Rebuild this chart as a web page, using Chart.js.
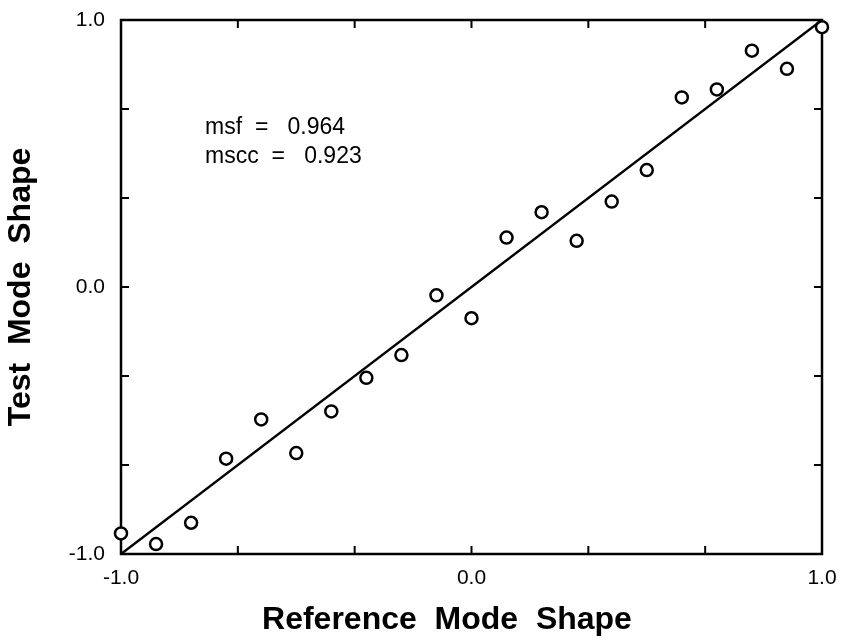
<!DOCTYPE html>
<html>
<head>
<meta charset="utf-8">
<script src="https://cdn.jsdelivr.net/npm/chart.js@4.4.1/dist/chart.umd.min.js"></script>
<style>
  html, body { margin: 0; padding: 0; background: #fff; }
  #wrap { width: 849px; height: 641px; }
</style>
</head>
<body>
<div id="wrap"><canvas id="mode-chart" width="849" height="641"></canvas></div>
<script>
// Mode shape comparison: test vs reference
const refShape = [-1.0, -0.9, -0.8, -0.7, -0.6, -0.5, -0.4, -0.3, -0.2, -0.1, 0.0,
                  0.1, 0.2, 0.3, 0.4, 0.5, 0.6, 0.7, 0.8, 0.9, 1.0];
const testShape = [-0.923, -0.963, -0.883, -0.643, -0.496, -0.622, -0.466, -0.340, -0.255, -0.031, -0.117,
                   0.185, 0.280, 0.173, 0.320, 0.438, 0.710, 0.740, 0.885, 0.817, 0.973];
const fitX = [-1.0, 1.0];
const fitY = [-1.0, 1.0];
const tickVals = [-1, -2 / 3, -1 / 3, 0, 1 / 3, 2 / 3, 1];
const labelVals = [-1, 0, 1];
const notes = ['msf  =   0.964', 'mscc  =   0.923'];
const notePos = [[-0.76, 0.596], [-0.76, 0.487]];
const xTitle = 'Reference  Mode  Shape';
const yTitle = 'Test  Mode  Shape';

const FONT = '"Liberation Sans", Arial, Helvetica, sans-serif';

function tickLabel(v) {
  const hit = labelVals.find(l => Math.abs(l - v) < 1e-6);
  return hit === undefined ? '' : hit.toFixed(1);
}

// frame, inward ticks, the text note and the x title (sits a bit left of centre)
const framePlugin = {
  id: 'frame',
  beforeDatasetsDraw(chart) {
    const { ctx, chartArea: a, scales: { x, y } } = chart;
    const tl = 8;
    ctx.save();
    ctx.strokeStyle = '#000';
    ctx.lineWidth = 2.5;
    ctx.strokeRect(a.left, a.top, a.right - a.left, a.bottom - a.top);
    ctx.lineWidth = 2;
    ctx.beginPath();
    tickVals.forEach(v => {
      const px = x.getPixelForValue(v);
      ctx.moveTo(px, a.bottom); ctx.lineTo(px, a.bottom - tl);
      ctx.moveTo(px, a.top); ctx.lineTo(px, a.top + tl);
      const py = y.getPixelForValue(v);
      ctx.moveTo(a.left, py); ctx.lineTo(a.left + tl, py);
      ctx.moveTo(a.right, py); ctx.lineTo(a.right - tl, py);
    });
    ctx.stroke();

    ctx.fillStyle = '#000';
    ctx.font = '23px ' + FONT;
    ctx.textAlign = 'left';
    ctx.textBaseline = 'middle';
    notes.forEach((t, i) => {
      ctx.fillText(t, x.getPixelForValue(notePos[i][0]), y.getPixelForValue(notePos[i][1]));
    });

    ctx.font = 'bold 32px ' + FONT;
    ctx.textAlign = 'center';
    ctx.textBaseline = 'middle';
    ctx.fillText(xTitle, x.getPixelForValue(-0.07), 620);
    ctx.restore();
  }
};

const ctx = document.getElementById('mode-chart');
new Chart(ctx, {
  type: 'scatter',
  data: {
    datasets: [
      {
        type: 'line',
        data: fitX.map((v, i) => ({ x: v, y: fitY[i] })),
        borderColor: '#000',
        borderWidth: 2.2,
        pointRadius: 0,
        fill: false,
        clip: false
      },
      {
        data: refShape.map((v, i) => ({ x: v, y: testShape[i] })),
        pointStyle: 'circle',
        pointRadius: 6,
        pointBorderWidth: 2.5,
        pointBorderColor: '#000',
        pointBackgroundColor: '#fff',
        clip: false
      }
    ]
  },
  options: {
    responsive: false,
    animation: false,
    devicePixelRatio: 1,
    layout: { padding: { top: 20, right: 27, left: 0, bottom: 0 } },
    plugins: {
      legend: { display: false },
      tooltip: { enabled: false }
    },
    scales: {
      x: {
        type: 'linear',
        min: -1,
        max: 1,
        afterBuildTicks: s => { s.ticks = tickVals.map(v => ({ value: v })); },
        afterFit: s => { s.height = 87; s.paddingLeft = 0; s.paddingRight = 0; },
        grid: { display: false, drawTicks: false },
        border: { display: false },
        ticks: {
          autoSkip: false,
          maxRotation: 0,
          padding: 12,
          color: '#000',
          font: { family: FONT, size: 21 },
          callback: v => tickLabel(v)
        },
        title: { display: false }
      },
      y: {
        type: 'linear',
        min: -1,
        max: 1,
        afterBuildTicks: s => { s.ticks = tickVals.map(v => ({ value: v })); },
        afterFit: s => { s.width = 121; s.paddingTop = 0; s.paddingBottom = 0; },
        grid: { display: false, drawTicks: false },
        border: { display: false },
        ticks: {
          autoSkip: false,
          padding: 16,
          color: '#000',
          font: { family: FONT, size: 21 },
          callback: v => tickLabel(v)
        },
        title: {
          display: true,
          text: yTitle,
          color: '#000',
          font: { family: FONT, size: 32, weight: 'bold' },
          padding: { top: 2, bottom: 0 }
        }
      }
    }
  },
  plugins: [framePlugin]
});
</script>
</body>
</html>
